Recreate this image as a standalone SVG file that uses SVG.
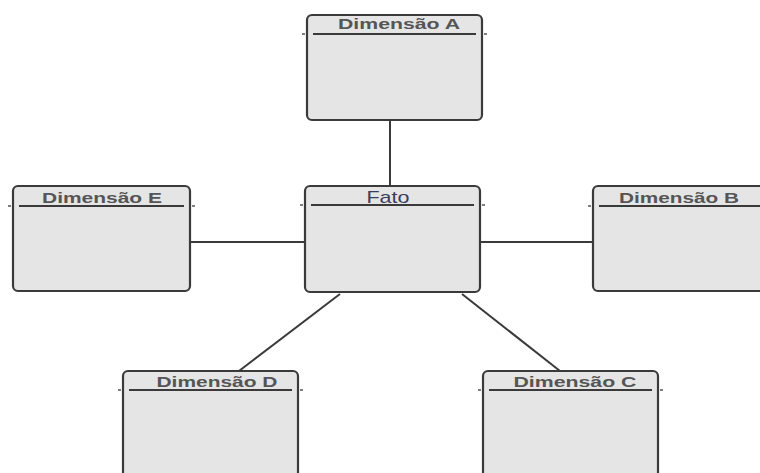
<svg xmlns="http://www.w3.org/2000/svg" width="760" height="473" viewBox="0 0 760 473">
  <style>
    .box { fill: #e5e5e5; stroke: #3a3a3a; stroke-width: 2.2; }
    .sep { stroke: #3a3a3a; stroke-width: 2; }
    .tick { stroke: #555; stroke-width: 1.5; }
    .title { font-family: "Liberation Sans", Arial, sans-serif; font-size: 15px; font-weight: bold; fill: #555; text-anchor: middle; }
    .fact { font-family: "Liberation Sans", Arial, sans-serif; font-size: 17px; fill: #3a3d5c; text-anchor: middle; }
    .link { stroke: #3a3a3a; stroke-width: 2; fill: none; }
  </style>
  <rect width="760" height="473" fill="#ffffff"/>

  <g id="connectors">
    <line class="link" x1="390" y1="120" x2="390" y2="186"/>
    <line class="link" x1="190" y1="242" x2="305" y2="242"/>
    <line class="link" x1="480" y1="242" x2="593" y2="242"/>
    <line class="link" x1="340" y1="294" x2="239" y2="371"/>
    <line class="link" x1="462" y1="294" x2="560" y2="371"/>
  </g>

  <g id="dim-a">
    <rect class="box" x="307" y="15" width="175" height="105" rx="5"/>
    <line class="sep" x1="313" y1="34" x2="476" y2="34"/>
    <line class="tick" x1="302" y1="34" x2="305" y2="34"/>
    <line class="tick" x1="484" y1="34" x2="487" y2="34"/>
    <text class="title" x="399" y="29" textLength="122" lengthAdjust="spacingAndGlyphs">Dimensão A</text>
  </g>

  <g id="fato">
    <rect class="box" x="305" y="186" width="175" height="106" rx="5"/>
    <line class="sep" x1="311" y1="205" x2="474" y2="205"/>
    <line class="tick" x1="300" y1="205" x2="303" y2="205"/>
    <line class="tick" x1="482" y1="205" x2="485" y2="205"/>
    <text class="fact" x="388" y="203" textLength="43" lengthAdjust="spacingAndGlyphs">Fato</text>
  </g>

  <g id="dim-e">
    <rect class="box" x="13" y="186" width="177" height="105" rx="5"/>
    <line class="sep" x1="19" y1="206" x2="184" y2="206"/>
    <line class="tick" x1="8" y1="206" x2="11" y2="206"/>
    <line class="tick" x1="192" y1="206" x2="195" y2="206"/>
    <text class="title" x="102" y="203" textLength="120" lengthAdjust="spacingAndGlyphs">Dimensão E</text>
  </g>

  <g id="dim-b">
    <rect class="box" x="593" y="186" width="178" height="105" rx="5"/>
    <line class="sep" x1="599" y1="206" x2="760" y2="206"/>
    <line class="tick" x1="588" y1="206" x2="591" y2="206"/>
    <text class="title" x="679" y="203" textLength="120" lengthAdjust="spacingAndGlyphs">Dimensão B</text>
  </g>

  <g id="dim-d">
    <rect class="box" x="123" y="371" width="175" height="120" rx="5"/>
    <line class="sep" x1="129" y1="390" x2="292" y2="390"/>
    <line class="tick" x1="118" y1="390" x2="121" y2="390"/>
    <line class="tick" x1="300" y1="390" x2="303" y2="390"/>
    <text class="title" x="217" y="387" textLength="121" lengthAdjust="spacingAndGlyphs">Dimensão D</text>
  </g>

  <g id="dim-c">
    <rect class="box" x="483" y="371" width="175" height="120" rx="5"/>
    <line class="sep" x1="489" y1="390" x2="652" y2="390"/>
    <line class="tick" x1="478" y1="390" x2="481" y2="390"/>
    <line class="tick" x1="660" y1="390" x2="663" y2="390"/>
    <text class="title" x="575" y="387" textLength="123" lengthAdjust="spacingAndGlyphs">Dimensão C</text>
  </g>
</svg>
